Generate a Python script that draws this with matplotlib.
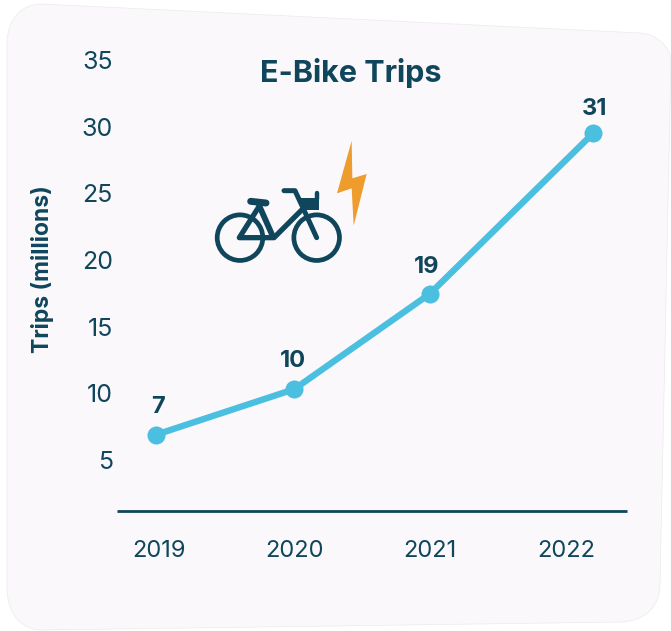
import matplotlib
matplotlib.use("Agg")
import matplotlib.pyplot as plt
from matplotlib.patches import PathPatch, Polygon, Circle
from matplotlib.path import Path

years = [2019, 2020, 2021, 2022]
point_x = [2018.98, 2019.995, 2020.995, 2022.2]
trips_drawn = [6.9, 10.3, 17.45, 29.5]
trip_labels = ["7", "10", "19", "31"]
label_offsets = [(2, 30), (-1, 30), (-3, 29), (1, 26)]
y_ticks = [5, 10, 15, 20, 25, 30, 35]

DARK = "#0f465c"
BLUE = "#4bbfe0"
ORANGE = "#ee9c2c"
CARD = "#faf8fa"

plt.rcParams["font.family"] = ["Inter", "DejaVu Sans"]

W, H = 671, 631
fig = plt.figure(figsize=(W / 100, H / 100), dpi=100, facecolor="white")

# background layer in pixel coordinates: card + icons
bg = fig.add_axes([0, 0, 1, 1])
bg.set_xlim(0, W)
bg.set_ylim(H, 0)
bg.axis("off")

card = Path(
    [(7, 42), (8, 18), (22, 4), (42, 4),
     (640, 33), (655, 34), (668, 44), (671, 58),
     (671, 60), (660, 585), (660, 606), (645, 621), (622, 622),
     (42, 630), (22, 630), (8, 615), (7, 590),
     (7, 42)],
    [Path.MOVETO, Path.CURVE4, Path.CURVE4, Path.CURVE4,
     Path.LINETO, Path.CURVE4, Path.CURVE4, Path.CURVE4,
     Path.LINETO, Path.LINETO, Path.CURVE4, Path.CURVE4, Path.CURVE4,
     Path.LINETO, Path.CURVE4, Path.CURVE4, Path.CURVE4,
     Path.CLOSEPOLY],
)
bg.add_patch(PathPatch(card, facecolor=CARD, edgecolor="#ecebec", lw=0.5))


def zoomed(points):
    return [(200 + x / 3, 130 + y / 3) for x, y in points]


def stroke(points, lw=3.6):
    xs, ys = zip(*zoomed(points))
    bg.plot(xs, ys, color=DARK, lw=lw, solid_capstyle="round", solid_joinstyle="round")


# bike
for cx in (120, 350):
    c = zoomed([(cx, 323)])[0]
    bg.add_patch(Circle(c, 22.8, fill=False, edgecolor=DARK, lw=3.4))
stroke([(152, 214), (198, 219)], lw=5)
stroke([(178, 228), (118, 323), (222, 323), (305, 240)], lw=3.8)
stroke([(178, 228), (218, 318)], lw=4.2)
stroke([(252, 182), (285, 182), (305, 225), (350, 323)])
stroke([(350, 188), (350, 206)], lw=3.2)
bg.add_patch(Polygon(zoomed([(298, 204), (357, 204), (357, 239), (310, 239)]), color=DARK, lw=0))

# lightning bolt
bg.add_patch(Polygon(
    zoomed([(455, 32), (411, 190), (455, 175), (461, 287), (500, 132), (457, 145)]),
    color=ORANGE, lw=0,
))

# chart layer, axes box lines up with the baseline
left, right, bottom, top = 117, 627, 511, 40
ax = fig.add_axes([left / W, 1 - bottom / H, (right - left) / W, (bottom - top) / H])
ax.patch.set_alpha(0)
ax.set_xlim(2018.69, 2022.45)
ax.set_ylim(1.17, 36.5)

ax.plot(point_x, trips_drawn, color=BLUE, lw=4.6, marker="o", ms=13, mec="none", clip_on=False)

for x, y, text, off in zip(point_x, trips_drawn, trip_labels, label_offsets):
    ax.annotate(text, (x, y), xytext=(off[0] * 0.72, off[1] * 0.72 - 1.4), textcoords="offset points",
                ha="center", va="center", fontsize=17, fontweight="bold", color=DARK)

for side in ("top", "right", "left"):
    ax.spines[side].set_visible(False)
ax.spines["bottom"].set_color(DARK)
ax.spines["bottom"].set_linewidth(2)
ax.spines["bottom"].set_capstyle("butt")

ax.set_xticks(years)
ax.set_yticks(y_ticks)
ax.tick_params(axis="x", length=0, pad=21, labelsize=17, labelcolor=DARK)
ax.tick_params(axis="y", length=0, pad=3, labelsize=18, labelcolor=DARK)

fig.text(351 / W, 1 - 73 / H, "E-Bike Trips", ha="center", va="center",
         fontsize=22, fontweight="bold", color=DARK)
fig.text(43 / W, 1 - 269 / H, "Trips (millions)", ha="center", va="center", rotation=90,
         fontsize=16.5, fontweight="bold", color=DARK)

fig.savefig("out.png", dpi=100, facecolor="white")
